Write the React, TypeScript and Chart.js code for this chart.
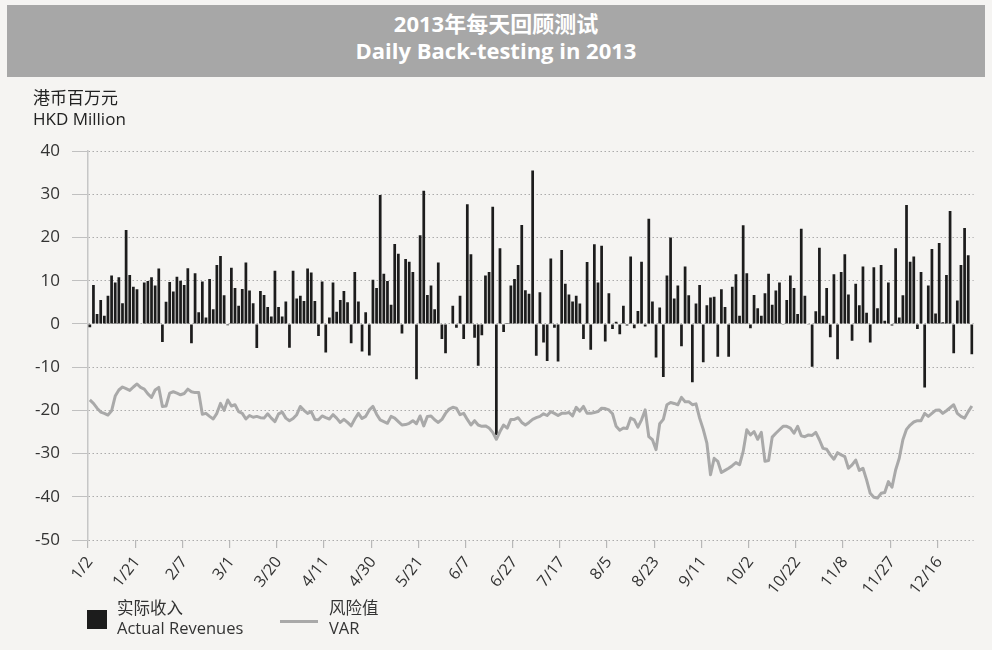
import React, { useEffect, useRef } from "react";
import { Chart, registerables } from "chart.js";

Chart.register(...registerables);

const FONT = '"Open Sans", "Noto Sans CJK SC", "Noto Sans", sans-serif';

// Labelled trading days (every 13th trading day of 2013)
const tickLabels = [
  "1/2", "1/21", "2/7", "3/1", "3/20", "4/11", "4/30", "5/21", "6/7", "6/27",
  "7/17", "8/5", "8/23", "9/11", "10/2", "10/22", "11/8", "11/27", "12/16",
];
const tickEvery = 13;

// Daily actual revenues (HKD million), 244 trading days
const revenues = [
  -0.8, 9.0, 2.3, 5.5, 1.9, 6.5, 11.2, 9.6, 10.8, 4.8,
  21.7, 11.3, 8.6, 8.0, 0, 9.6, 9.9, 10.8, 8.9, 12.8,
  -4.2, 5.1, 9.7, 7.5, 10.9, 10.0, 9.0, 12.9, -4.5, 11.7,
  2.7, 9.8, 1.5, 10.4, 3.4, 13.6, 15.7, 6.6, -0.3, 13.0,
  8.3, 4.2, 8.1, 14.2, 7.7, 4.8, -5.6, 7.6, 6.7, 3.9,
  1.7, 12.3, 3.9, 1.7, 5.2, -5.5, 12.3, 5.9, 6.5, 5.3,
  12.8, 11.9, 5.3, -2.8, 9.8, -6.6, 1.5, 9.6, 2.8, 5.5,
  7.6, 5.0, -4.5, 12.0, 5.2, -6.4, 2.7, -7.3, 10.2, 8.3,
  29.8, 11.6, 9.9, 4.4, 18.5, 16.2, -2.2, 15.0, 14.4, 12.0,
  -12.8, 20.5, 30.8, 6.7, 8.9, 3.4, 14.2, -3.5, -6.8, 0,
  4.2, -0.9, 6.5, -3.5, 27.7, 16.1, -3.2, -9.7, -2.6, 11.2,
  12.0, 27.1, -25.7, 17.5, -1.9, 0.2, 8.9, 10.4, 13.6, 22.9,
  7.8, 7.0, 35.5, -7.4, 7.3, -4.3, -8.6, 15.1, -0.9, -8.7,
  17.1, 9.3, 6.8, 5.2, 6.5, 4.7, -3.5, 14.3, -6.0, 18.4,
  9.6, 18.1, -4.1, 7.1, -1.2, 0.5, -2.4, 4.2, -0.4, 15.6,
  -1.0, 3.0, 14.4, -0.6, 24.3, 5.2, -7.8, 3.8, -12.3, 11.2,
  20.0, 5.9, 8.9, -5.2, 13.3, 6.6, -13.5, 4.7, 9.0, -8.9,
  4.3, 6.1, 6.3, -7.6, 8.0, 3.9, -7.6, 8.6, 11.5, 1.9,
  22.8, 11.7, -1.0, 6.7, 3.6, 1.9, 7.1, 11.6, 4.4, 7.7,
  9.6, -0.2, 5.5, 11.2, 8.3, 2.3, 22.0, 6.5, -0.1, -9.9,
  2.9, 17.6, 1.9, 8.3, -3.1, 11.5, -8.2, 12.0, 16.1, 6.8,
  -3.9, 9.3, 4.3, 13.3, 2.6, -4.3, 13.1, 3.6, 13.6, 0.7,
  9.6, -0.4, 17.5, 1.5, 6.6, 27.5, 14.4, 15.6, -1.2, 12.0,
  -14.7, 8.9, 17.3, 2.4, 18.7, 0.4, 11.3, 26.1, -6.8, 5.4,
  13.6, 22.2, 15.9, -7.0,
];

// Daily VAR (HKD million)
const varValues = [
  -17.6, -18.4, -19.5, -20.4, -20.7, -21.1, -20.1, -16.7, -15.3, -14.6,
  -15.0, -15.4, -14.6, -13.9, -14.7, -15.1, -16.2, -17.0, -15.3, -14.7,
  -19.1, -19.0, -16.0, -15.7, -16.0, -16.4, -16.1, -15.1, -15.7, -15.9,
  -15.9, -20.9, -20.7, -21.4, -22.0, -20.7, -18.4, -20.0, -17.6, -19.0,
  -18.7, -20.3, -20.7, -22.0, -21.2, -21.6, -21.4, -21.7, -21.8, -20.8,
  -21.8, -22.6, -20.8, -20.4, -21.8, -22.4, -21.9, -21.0, -19.1, -20.0,
  -20.7, -20.3, -22.1, -22.2, -21.3, -21.7, -22.0, -21.0, -21.8, -22.8,
  -22.1, -22.8, -23.6, -22.0, -20.7, -21.9, -21.4, -19.9, -19.1, -20.9,
  -22.2, -22.6, -23.0, -21.4, -21.8, -22.6, -23.4, -23.3, -23.0, -22.4,
  -23.1, -21.3, -23.6, -21.4, -21.3, -22.2, -22.8, -22.1, -20.7, -19.7,
  -19.3, -19.5, -21.0, -20.7, -22.1, -23.4, -22.4, -23.4, -23.7, -23.6,
  -24.1, -25.1, -26.7, -24.9, -23.4, -24.1, -22.1, -22.1, -21.7, -22.8,
  -23.4, -22.8, -22.1, -21.7, -21.4, -20.8, -21.2, -20.3, -20.7, -21.2,
  -20.7, -20.7, -20.5, -21.3, -19.3, -20.2, -19.1, -20.7, -20.7, -20.5,
  -20.3, -19.5, -19.6, -19.9, -20.8, -23.7, -24.6, -24.1, -24.2, -21.8,
  -22.2, -23.9, -22.2, -19.9, -26.1, -26.8, -29.1, -23.1, -22.1, -18.7,
  -18.2, -18.4, -18.7, -17.0, -18.0, -18.0, -18.7, -18.5, -21.8, -24.4,
  -27.6, -34.9, -31.1, -31.8, -34.4, -33.9, -33.4, -32.8, -32.1, -32.6,
  -29.5, -24.5, -25.7, -24.9, -26.7, -25.1, -31.8, -31.6, -26.2, -25.3,
  -24.5, -23.7, -23.7, -24.1, -25.3, -23.7, -25.9, -26.1, -25.7, -25.8,
  -25.1, -26.8, -28.8, -29.0, -30.3, -31.3, -29.8, -30.3, -30.7, -33.4,
  -32.6, -31.5, -33.9, -33.4, -36.1, -39.2, -40.1, -40.3, -39.2, -39.0,
  -36.5, -37.8, -33.8, -31.1, -26.8, -24.4, -23.4, -22.7, -22.4, -22.4,
  -20.7, -21.4, -20.7, -20.0, -19.9, -20.7, -20.1, -19.4, -18.7, -20.7,
  -21.4, -21.8, -20.3, -19.0,
];

const yMin = -50;
const yMax = 40;
const yStep = 10;

export default function App() {
  const ref = useRef<HTMLCanvasElement>(null);

  useEffect(() => {
    const categories = revenues.map((_, i) =>
      i % tickEvery === 0 ? tickLabels[i / tickEvery] ?? "" : ""
    );
    const chart = new Chart(ref.current as HTMLCanvasElement, {
      type: "bar",
      data: {
        labels: categories,
        datasets: [
          {
            type: "line",
            label: "VAR",
            data: varValues,
            borderColor: "#a9a9a9",
            borderWidth: 3,
            pointRadius: 0,
            tension: 0,
            borderJoinStyle: "round",
            order: 1,
          } as any,
          {
            type: "bar",
            label: "Actual Revenues",
            data: revenues,
            backgroundColor: "#1c1c1c",
            barPercentage: 0.75,
            categoryPercentage: 1,
            order: 2,
          } as any,
        ],
      },
      options: {
        responsive: false,
        animation: false,
        layout: { padding: { top: 151, right: 9, bottom: 0, left: 0 } },
        plugins: {
          legend: { display: false },
          tooltip: { enabled: false },
          title: { display: false },
        },
        scales: {
          x: {
            offset: true,
            afterFit: (s: any) => {
              s.height = 110;
            },
            border: { display: false },
            grid: {
              offset: true,
              drawOnChartArea: false,
              drawTicks: true,
              tickLength: 8,
              lineWidth: 1.2,
              color: (ctx: any) =>
                ctx.index % tickEvery === 0 ? "#b8b8b8" : "rgba(0,0,0,0)",
            },
            ticks: {
              autoSkip: false,
              maxRotation: 52,
              minRotation: 52,
              padding: 5,
              color: "#333",
              font: { family: FONT, size: 16 },
            },
          },
          y: {
            min: yMin,
            max: yMax,
            afterFit: (s: any) => {
              s.width = 88;
            },
            border: { display: true, color: "#c6c6c6", width: 1.5, dash: [1.5, 2.5] },
            grid: {
              color: "#ababab",
              lineWidth: 1,
              tickColor: "#c0c0c0",
              tickLength: 16,
              tickBorderDash: [],
            },
            ticks: {
              stepSize: yStep,
              padding: 12,
              color: "#333",
              font: { family: FONT, size: 17 },
            },
          },
        },
      },
    });
    return () => chart.destroy();
  }, []);

  return (
    <div
      style={{
        position: "absolute",
        left: 0,
        top: 0,
        width: 992,
        height: 650,
        background: "#f5f4f2",
        fontFamily: FONT,
        overflow: "hidden",
      }}
    >
      <div
        style={{
          position: "absolute",
          left: 7,
          top: 5,
          width: 978,
          height: 72,
          background: "#a7a7a7",
        }}
      />
      <div
        style={{
          position: "absolute",
          left: 0,
          top: 10,
          width: 992,
          textAlign: "center",
          color: "#ffffff",
          fontWeight: 700,
          fontSize: 22,
          lineHeight: "27px",
        }}
      >
        <div>2013年每天回顾测试</div>
        <div>Daily Back-testing in 2013</div>
      </div>
      <canvas
        ref={ref}
        width={992}
        height={650}
        style={{ position: "absolute", left: 0, top: 0, width: 992, height: 650 }}
      />
      <div
        style={{
          position: "absolute",
          left: 33,
          top: 87,
          fontSize: 17,
          lineHeight: "21px",
          color: "#222",
        }}
      >
        <div>港币百万元</div>
        <div>HKD Million</div>
      </div>
      <div
        style={{
          position: "absolute",
          left: 87,
          top: 610,
          width: 20,
          height: 19,
          background: "#1c1c1c",
        }}
      />
      <div
        style={{
          position: "absolute",
          left: 117,
          top: 598,
          fontSize: 16.5,
          lineHeight: "20px",
          color: "#333",
        }}
      >
        <div>实际收入</div>
        <div>Actual Revenues</div>
      </div>
      <div
        style={{
          position: "absolute",
          left: 280,
          top: 620,
          width: 38,
          height: 3,
          background: "#a9a9a9",
        }}
      />
      <div
        style={{
          position: "absolute",
          left: 329,
          top: 598,
          fontSize: 16.5,
          lineHeight: "20px",
          color: "#333",
        }}
      >
        <div>风险值</div>
        <div>VAR</div>
      </div>
    </div>
  );
}
